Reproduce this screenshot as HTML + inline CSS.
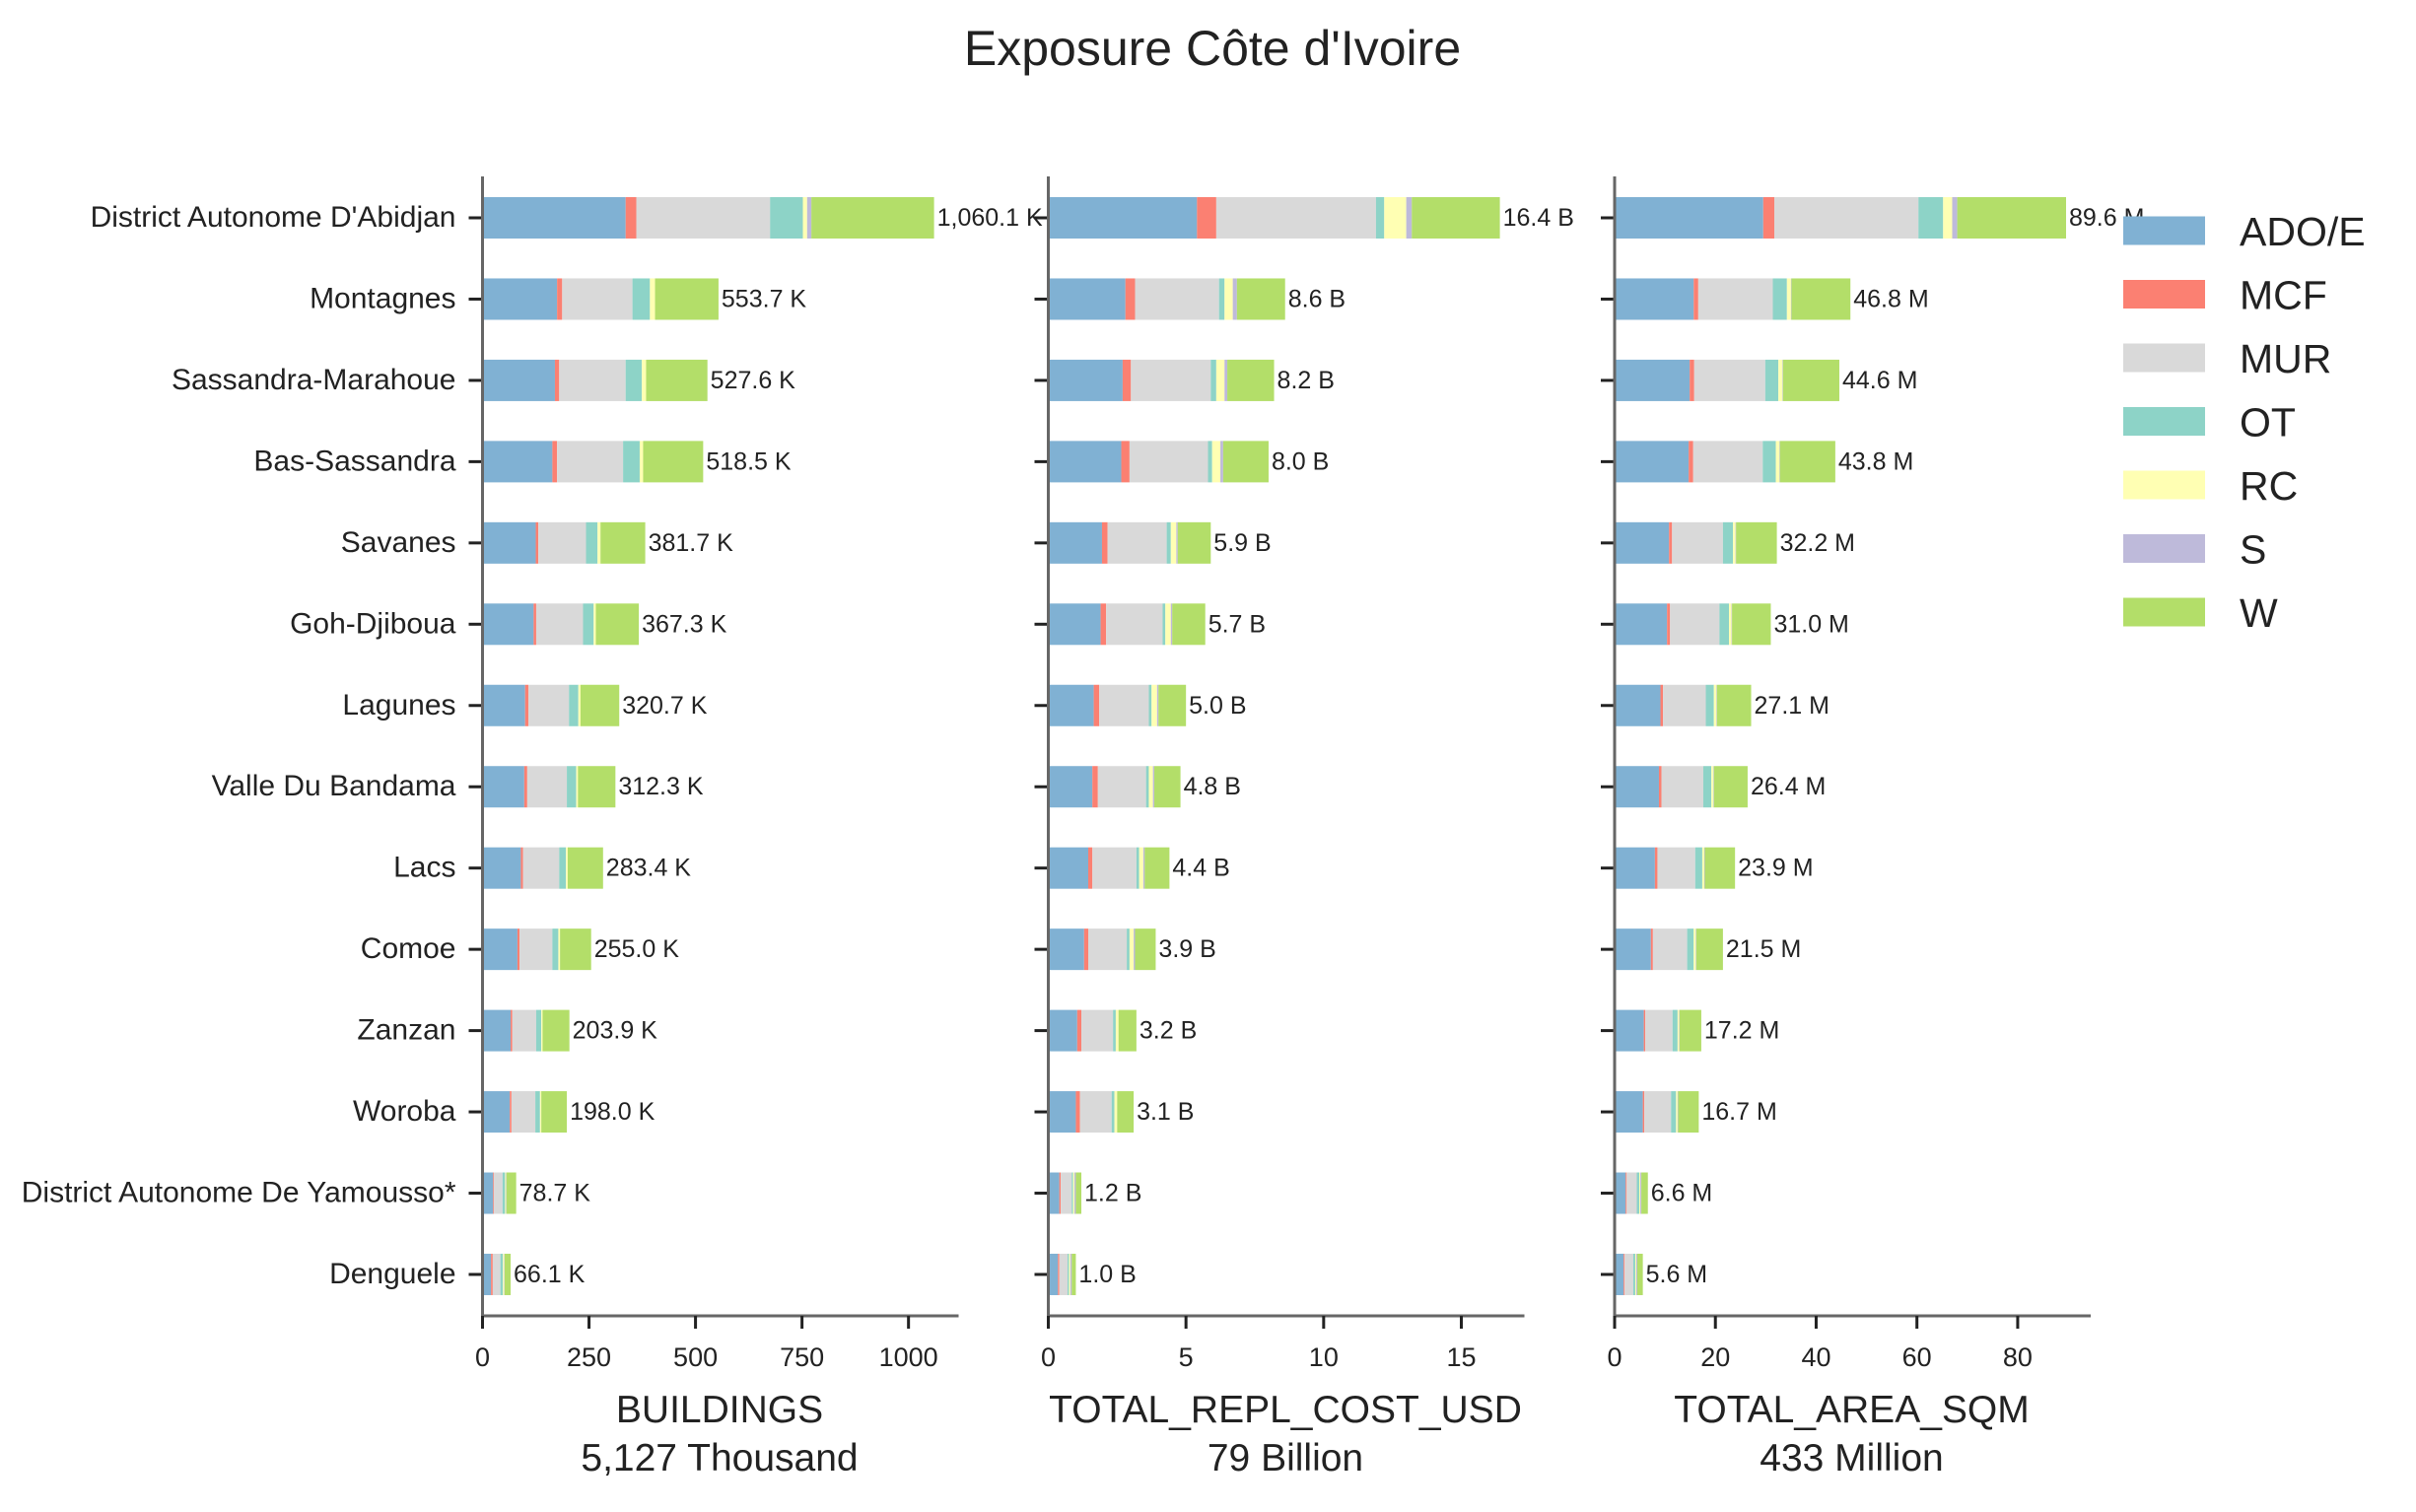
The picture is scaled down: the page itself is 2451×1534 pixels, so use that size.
<!DOCTYPE html>
<html><head><meta charset="utf-8"><style>
html,body{margin:0;padding:0;background:#fff;}
svg{display:block;font-family:"Liberation Sans",sans-serif;}
</style></head><body>
<svg id="chart" width="2451" height="1534" viewBox="0 0 2451 1534" xmlns="http://www.w3.org/2000/svg">
<text x="1230" y="66" text-anchor="middle" font-size="50" fill="#222">Exposure Côte d'Ivoire</text>
<g id="panels"></g>
<g id="legend"></g>
</svg>
<script>
const regions = ["District Autonome D'Abidjan","Montagnes","Sassandra-Marahoue","Bas-Sassandra","Savanes","Goh-Djiboua","Lagunes","Valle Du Bandama","Lacs","Comoe","Zanzan","Woroba","District Autonome De Yamousso*","Denguele"];
const seriesNames = ["ADO/E","MCF","MUR","OT","RC","S","W"];
const seriesColors = ["#80b1d3","#fb8072","#d9d9d9","#8dd3c7","#ffffb3","#bebada","#b3de69"];
// per region: [ADO/E, MCF, MUR, OT, RC, S, W]
const buildings = [
[336,25,314,77,10,10,288],[175,12,165,41,12,0,149],[170,10,156,38,10,0,144],[164,11,155,39,8,0,141],
[125,6,112,27,7,0,105],[120,6,110,25,5,0,101],[100,8,95,22,5,0,91],[98,7,93,22,4,0,88],
[90,5,85,16,4,0,83],[82,5,77,14,4,0,73],[66,4,56,12,3,0,63],[64,4,56,11,3,0,60],
[25,2,20,6,2,1,23],[20,4,18,6,3,1,14]];
const buildingLabels = ["1,060.1 K","553.7 K","527.6 K","518.5 K","381.7 K","367.3 K","320.7 K","312.3 K","283.4 K","255.0 K","203.9 K","198.0 K","78.7 K","66.1 K"];
const cost = [
[5.4,0.7,5.8,0.3,0.8,0.2,3.2],[2.8,0.35,3.05,0.2,0.3,0.15,1.75],[2.7,0.3,2.9,0.2,0.3,0.1,1.7],[2.65,0.3,2.85,0.15,0.3,0.1,1.65],
[1.95,0.2,2.15,0.15,0.2,0.05,1.2],[1.9,0.2,2.05,0.1,0.2,0.05,1.2],[1.65,0.2,1.8,0.1,0.2,0.05,1.0],[1.6,0.2,1.75,0.1,0.15,0.05,0.95],
[1.45,0.15,1.6,0.1,0.15,0.05,0.9],[1.3,0.15,1.4,0.1,0.15,0.05,0.75],[1.05,0.15,1.15,0.1,0.1,0.0,0.65],[1.0,0.15,1.15,0.1,0.1,0.0,0.6],
[0.4,0.05,0.4,0.05,0.05,0.05,0.2],[0.35,0.05,0.3,0.05,0.05,0.05,0.15]];
const costLabels = ["16.4 B","8.6 B","8.2 B","8.0 B","5.9 B","5.7 B","5.0 B","4.8 B","4.4 B","3.9 B","3.2 B","3.1 B","1.2 B","1.0 B"];
const area = [
[29.5,2.2,28.6,4.9,1.8,1.0,21.6],[15.7,0.9,14.8,2.8,0.8,0.1,11.7],[14.9,0.9,14.1,2.6,0.8,0.1,11.2],[14.7,0.9,13.8,2.6,0.7,0.1,11.0],
[10.8,0.6,10.1,2.0,0.5,0.1,8.1],[10.4,0.6,9.8,1.9,0.5,0.1,7.7],[9.1,0.5,8.5,1.6,0.5,0.1,6.8],[8.8,0.5,8.3,1.6,0.4,0.1,6.7],
[8.0,0.5,7.5,1.4,0.4,0.1,6.0],[7.2,0.4,6.8,1.3,0.4,0.1,5.3],[5.8,0.3,5.4,1.0,0.3,0.1,4.3],[5.6,0.3,5.3,1.0,0.3,0.1,4.1],
[2.2,0.2,2.0,0.5,0.2,0.2,1.3],[1.8,0.2,1.7,0.4,0.2,0.2,1.1]];
const areaLabels = ["89.6 M","46.8 M","44.6 M","43.8 M","32.2 M","31.0 M","27.1 M","26.4 M","23.9 M","21.5 M","17.2 M","16.7 M","6.6 M","5.6 M"];
const buildingTicks = [0,250,500,750,1000];
const costTicks = [0,5,10,15];
const areaTicks = [0,20,40,60,80];
const buildingMax = 1113, costMax = 17.22, areaMax = 94.1;
const panelTitles = [["BUILDINGS","5,127 Thousand"],["TOTAL_REPL_COST_USD","79 Billion"],["TOTAL_AREA_SQM","433 Million"]];

const NS="http://www.w3.org/2000/svg";
function mk(tag, attrs, parent){const e=document.createElementNS(NS,tag);for(const k in attrs)e.setAttribute(k,attrs[k]);parent.appendChild(e);return e;}
const panelsG=document.getElementById('panels');
const axTop=179, axBottom=1335, axW=481, barH=42;
const rowY = i => 221 + i*82.46;
const panels=[
 {x0:489.5,data:buildings,labels:buildingLabels,ticks:buildingTicks,max:buildingMax,name:'buildings'},
 {x0:1063.5,data:cost,labels:costLabels,ticks:costTicks,max:costMax,name:'repl-cost'},
 {x0:1638,data:area,labels:areaLabels,ticks:areaTicks,max:areaMax,name:'area'}];
panels.forEach((p,pi)=>{
  const g=mk('g',{},panelsG);
  
  
  const xs=v=>p.x0+v/p.max*axW;
  regions.forEach((r,i)=>{
    const y=rowY(i);
    let acc=0;
    p.data[i].forEach((v,si)=>{
      if(v<=0){return;}
      const rect=mk('rect',{x:xs(acc),y:y-barH/2,width:xs(acc+v)-xs(acc),height:barH,fill:seriesColors[si]},g);
      
      
      acc+=v;
    });
    const t=mk('text',{x:xs(acc)+3,y:y+8,'font-size':25,fill:'#222'},g);
    t.textContent=p.labels[i];
    
    
    mk('line',{x1:p.x0-14,x2:p.x0,y1:y,y2:y,stroke:'#222','stroke-width':3},g);
    if(pi===0){
      const lt=mk('text',{x:p.x0-27,y:y+9,'font-size':30,fill:'#222','text-anchor':'end'},g);
      lt.textContent=r;
      
      
    }
  });
  mk('line',{x1:p.x0,x2:p.x0,y1:axTop,y2:axBottom+1.5,stroke:'#666','stroke-width':3},g);
  mk('line',{x1:p.x0-1.5,x2:p.x0+axW+2,y1:axBottom,y2:axBottom,stroke:'#666','stroke-width':3},g);
  p.ticks.forEach(tv=>{
    const x=xs(tv);
    mk('line',{x1:x,x2:x,y1:axBottom,y2:axBottom+13,stroke:'#222','stroke-width':3},g);
    const tt=mk('text',{x:x,y:axBottom+51,'font-size':27,fill:'#222','text-anchor':'middle'},g);
    tt.textContent=String(tv);
    
    
  });
  const cx=p.x0+axW/2;
  const t1=mk('text',{x:cx,y:1443,'font-size':39,fill:'#222','text-anchor':'middle'},g);
  t1.textContent=panelTitles[pi][0];
  
  
  const t2=mk('text',{x:cx,y:1492,'font-size':39,fill:'#222','text-anchor':'middle'},g);
  t2.textContent=panelTitles[pi][1];
  
  
});
const lg=document.getElementById('legend');
seriesNames.forEach((s,i)=>{
  const cy=234+i*64.5;
  const r=mk('rect',{x:2154,y:cy-14.5,width:83,height:29,fill:seriesColors[i]},lg);
  
  
  const t=mk('text',{x:2272,y:cy+15,'font-size':41,fill:'#222'},lg);
  t.textContent=s;
  
  
});
</script>
</body></html>
